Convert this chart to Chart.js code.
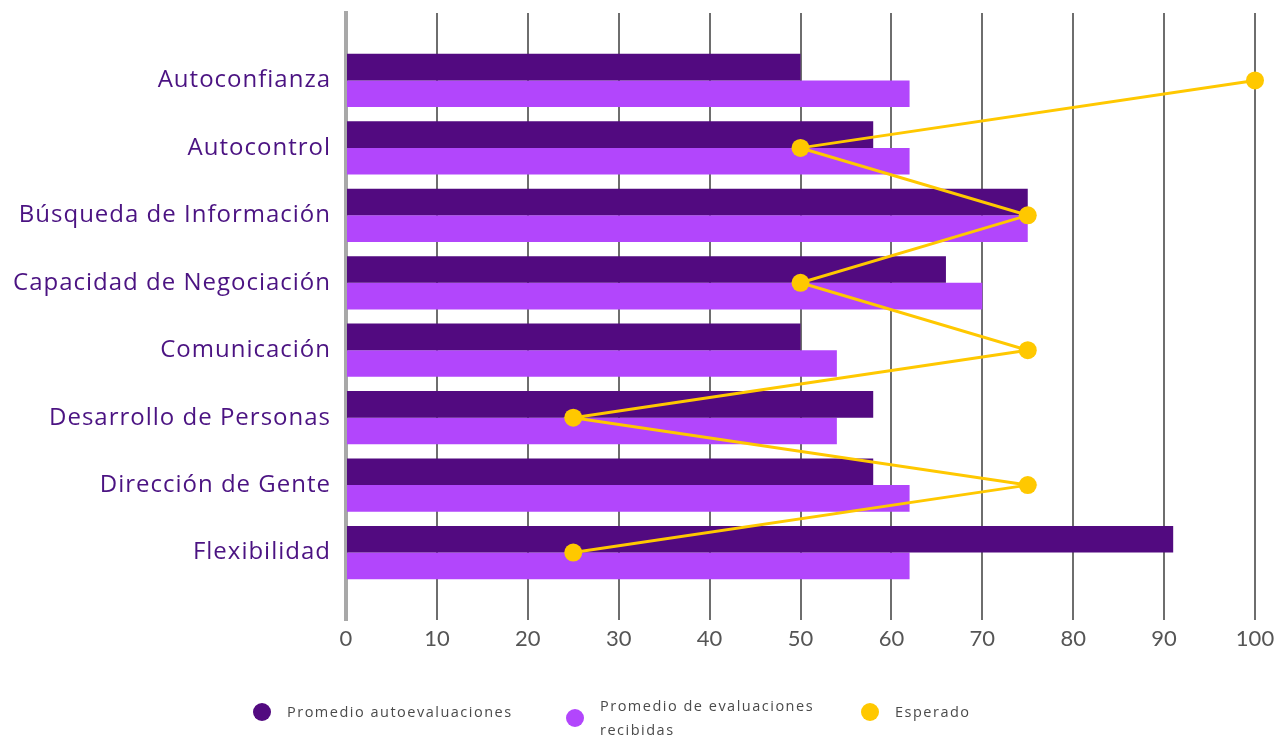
<!DOCTYPE html>
<html>
<head>
<meta charset="utf-8">
<script src="https://cdn.jsdelivr.net/npm/chart.js@4"></script>
<style>
    html, body { margin: 0; padding: 0; background: #fff; }
    #wrap { position: relative; width: 1288px; height: 739px; }
    #legend { position: absolute; left: 0; top: 0; width: 1288px; height: 739px; pointer-events: none;
              font-family: "Open Sans", sans-serif; font-size: 14.5px; letter-spacing: 1.5px; color: #4a4a4a; }
    .item { position: absolute; display: flex; align-items: center; }
    .dot { width: 18px; height: 18px; border-radius: 50%; margin-right: 16px; flex: none; }
    .txt { line-height: 24px; }
</style>
</head>
<body>
<div id="wrap">
    <canvas id="chart" width="1288" height="739"></canvas>
    <div id="legend"></div>
</div>
<script>
// Competencias evaluadas
const categories = ['Autoconfianza', 'Autocontrol', 'Búsqueda de Información', 'Capacidad de Negociación',
    'Comunicación', 'Desarrollo de Personas', 'Dirección de Gente', 'Flexibilidad'];

const autoevaluaciones = [50, 58, 75, 66, 50, 58, 58, 91];
const evaluacionesRecibidas = [62, 62, 75, 70, 54, 54, 62, 62];
const esperado = [100, 50, 75, 50, 75, 25, 75, 25];

const xTicks = [0, 10, 20, 30, 40, 50, 60, 70, 80, 90, 100];

const seriesNames = ['Promedio autoevaluaciones', ['Promedio de evaluaciones', 'recibidas'], 'Esperado'];
const colors = ['#520a80', '#b246fc', '#ffc800'];

// blank slot above and below so the rows sit one step inside the plot area
const pad = arr => [null, ...arr, null];
const labels = ['', ...categories, ''];

const ctx = document.getElementById('chart').getContext('2d');
const chart = new Chart(ctx, {
    type: 'bar',
    data: {
        labels: labels,
        datasets: [{
            type: 'line',
            label: 'Esperado',
            data: pad(esperado),
            borderColor: colors[2],
            backgroundColor: colors[2],
            borderWidth: 3,
            pointRadius: 9,
            pointHoverRadius: 9,
            pointBorderWidth: 0,
            spanGaps: false,
            clip: false,
            order: 0
        }, {
            label: 'Promedio autoevaluaciones',
            data: pad(autoevaluaciones),
            backgroundColor: colors[0],
            categoryPercentage: 0.79,
            barPercentage: 1.0,
            order: 1
        }, {
            label: 'Promedio de evaluaciones recibidas',
            data: pad(evaluacionesRecibidas),
            backgroundColor: colors[1],
            categoryPercentage: 0.79,
            barPercentage: 1.0,
            order: 1
        }]
    },
    options: {
        indexAxis: 'y',
        responsive: false,
        animation: false,
        layout: { padding: { top: 13, right: 33, left: 0, bottom: 0 } },
        plugins: {
            legend: { display: false },
            tooltip: { enabled: false }
        },
        scales: {
            x: {
                min: 0,
                max: 100,
                afterBuildTicks: scale => { scale.ticks = xTicks.map(v => ({ value: v })); },
                afterFit: scale => { scale.height = 119; },
                grid: { color: '#6e6e6e', lineWidth: 2, drawTicks: false },
                border: { display: false },
                ticks: {
                    padding: 6,
                    color: '#555',
                    font: { family: 'Lato', size: 22 }
                }
            },
            y: {
                offset: false,
                afterFit: scale => {
                    scale.width = 346;
                    scale.paddingTop = 0;
                    scale.paddingBottom = 0;
                    // category names are set a little wider apart
                    scale.drawLabels = function (area) {
                        const c = this.ctx;
                        const prev = c.letterSpacing;
                        c.letterSpacing = '1px';
                        Chart.Scale.prototype.drawLabels.call(this, area);
                        c.letterSpacing = prev;
                    };
                },
                grid: { display: false },
                border: { color: '#a8a8a8', width: 4 },
                ticks: {
                    padding: 7,
                    color: '#4b1382',
                    font: { family: 'Open Sans', size: 24 }
                }
            }
        }
    }
});

// legend under the plot, same markers as the datasets
const legendPos = [
    { x: 253, y: 700 },
    { x: 566, y: 694 },
    { x: 861, y: 700 }
];
const legendEl = document.getElementById('legend');
seriesNames.forEach((name, i) => {
    const item = document.createElement('div');
    item.className = 'item';
    item.style.left = legendPos[i].x + 'px';
    item.style.top = legendPos[i].y + 'px';
    const dot = document.createElement('span');
    dot.className = 'dot';
    dot.style.background = colors[i];
    const txt = document.createElement('span');
    txt.className = 'txt';
    txt.innerHTML = [].concat(name).join('<br>');
    item.appendChild(dot);
    item.appendChild(txt);
    legendEl.appendChild(item);
});
</script>
</body>
</html>
